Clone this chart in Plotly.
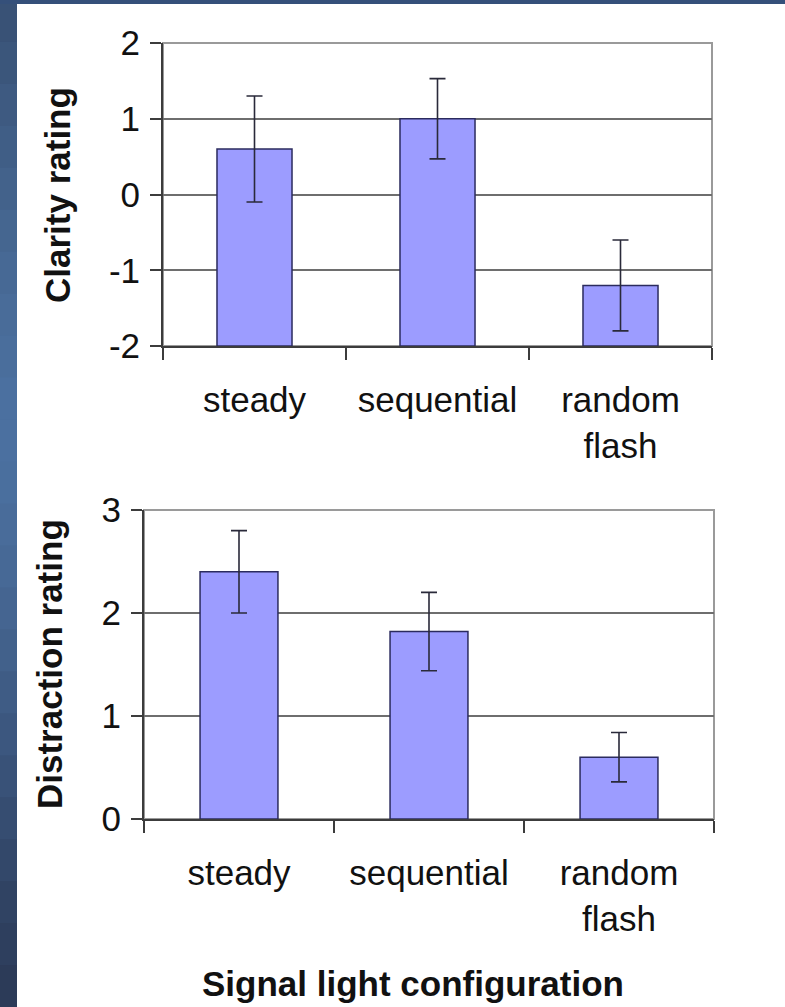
import plotly.graph_objects as go
from plotly.subplots import make_subplots

# ---- data ----
categories = ["steady", "sequential", "random flash"]
tick_labels = ["steady", "sequential", "random<br>flash"]
clarity_mean = [0.6, 1.0, -1.2]
clarity_err = [0.7, 0.53, 0.6]
distraction_mean = [2.4, 1.82, 0.6]
distraction_err = [0.4, 0.38, 0.24]
clarity_ticks = [-2, -1, 0, 1, 2]
clarity_tick_text = ["-2", "-1", "0", "1", "2"]
distraction_ticks = [0, 1, 2, 3]
distraction_tick_text = ["0", "1", "2", "3"]
clarity_min, clarity_max = -2, 2
distraction_min, distraction_max = 0, 3

W, H = 785, 1007
BAR_FILL = "#9c9cff"
BAR_LINE = "#2b2b5e"
ERR_COLOR = "#2a2a3a"
AXIS_COLOR = "#3c3c3c"
GRID_COLOR = "#6e6e6e"
FONT = "Liberation Sans, Arial, sans-serif"
TICK_SIZE = 35
TITLE_SIZE = 35

fig = make_subplots(rows=2, cols=1)

# top chart: bars drawn from the axis minimum (-2)
fig.add_trace(go.Bar(
    x=categories, y=[v - clarity_min for v in clarity_mean], base=clarity_min,
    marker=dict(color=BAR_FILL, line=dict(color=BAR_LINE, width=1.5)),
    showlegend=False, hoverinfo="skip"), row=1, col=1)
fig.add_trace(go.Scatter(
    x=categories, y=clarity_mean, mode="markers",
    marker=dict(color="rgba(0,0,0,0)", size=1),
    error_y=dict(type="data", array=clarity_err, color=ERR_COLOR, thickness=1.6, width=8),
    showlegend=False, hoverinfo="skip"), row=1, col=1)

fig.add_trace(go.Bar(
    x=categories, y=distraction_mean,
    marker=dict(color=BAR_FILL, line=dict(color=BAR_LINE, width=1.5)),
    showlegend=False, hoverinfo="skip"), row=2, col=1)
fig.add_trace(go.Scatter(
    x=categories, y=distraction_mean, mode="markers",
    marker=dict(color="rgba(0,0,0,0)", size=1),
    error_y=dict(type="data", array=distraction_err, color=ERR_COLOR, thickness=1.6, width=8),
    showlegend=False, hoverinfo="skip"), row=2, col=1)

def px_x(p):
    return p / W

def px_y(p):
    return 1 - p / H

xcommon = dict(
    type="category", tickmode="array", tickvals=categories, ticktext=tick_labels,
    tickson="boundaries", ticks="outside", ticklen=12, tickwidth=2, tickcolor=AXIS_COLOR,
    showline=True, linecolor=AXIS_COLOR, linewidth=2, showgrid=False, zeroline=False,
    tickfont=dict(family=FONT, size=TICK_SIZE, color="#111111"), automargin=False,
    ticklabelstandoff=22, range=[-0.5, 2.5], fixedrange=True,
)
ycommon = dict(
    tickmode="array", ticks="outside", ticklen=11, tickwidth=2, tickcolor=AXIS_COLOR,
    showline=True, linecolor=AXIS_COLOR, linewidth=2,
    showgrid=True, gridcolor=GRID_COLOR, gridwidth=2, zeroline=False,
    tickfont=dict(family=FONT, size=TICK_SIZE, color="#111111"), automargin=False,
    ticklabelstandoff=3, fixedrange=True,
)

fig.update_layout(
    width=W, height=H,
    margin=dict(l=0, r=0, t=0, b=0),
    paper_bgcolor="white", plot_bgcolor="white",
    template="none", bargap=0.59, showlegend=False,
    font=dict(family=FONT, color="#111111"),
    xaxis=dict(xcommon, domain=[px_x(163), px_x(712)]),
    yaxis=dict(ycommon, domain=[px_y(346), px_y(43)], range=[clarity_min, clarity_max],
               tickvals=clarity_ticks, ticktext=clarity_tick_text),
    xaxis2=dict(xcommon, domain=[px_x(144), px_x(714)]),
    yaxis2=dict(ycommon, domain=[px_y(819), px_y(510)], range=[distraction_min, distraction_max],
                tickvals=distraction_ticks, ticktext=distraction_tick_text),
)

shapes = []
# slide background decoration: dark blue left strip (gradient bands) and top strip
strip_colors = ["#395276", "#3b567b", "#3e5a81", "#405e86", "#43628b", "#456690",
                "#476995", "#496c99", "#4a6e9c", "#4b70a0", "#4b70a0", "#4a6f9e",
                "#496c9a", "#476996", "#456591", "#42618b", "#3f5c85", "#3c577f",
                "#395278", "#364d71", "#33486a", "#304363", "#2e3f5e", "#2c3b58"]
n = len(strip_colors)
shapes.append(dict(type="rect", xref="paper", yref="paper",
                   x0=0, x1=px_x(17), y0=0, y1=1,
                   fillcolor=strip_colors[n // 2], line=dict(width=0), layer="below"))
for i, c in enumerate(strip_colors):
    shapes.append(dict(type="rect", xref="paper", yref="paper",
                       x0=0, x1=px_x(17), y0=max(0, 1 - (i + 1) / n - 0.003),
                       y1=1 - i / n, fillcolor=c, line=dict(width=0), layer="below"))
shapes.append(dict(type="rect", xref="paper", yref="paper",
                   x0=0, x1=1, y0=px_y(4), y1=1,
                   fillcolor="#35507a", line=dict(width=0), layer="below"))
# plot frames (gray top/right border)
for xr, yr in (("x domain", "y domain"), ("x2 domain", "y2 domain")):
    shapes.append(dict(type="rect", xref=xr, yref=yr, x0=0, x1=1, y0=0, y1=1,
                       line=dict(color="#9a9a9a", width=2), layer="below"))
fig.update_layout(shapes=shapes)

annotations = [
    dict(text="<b>Clarity rating</b>", x=px_x(57), y=px_y(195), xref="paper", yref="paper",
         textangle=-90, showarrow=False, xanchor="center", yanchor="middle",
         font=dict(family=FONT, size=TITLE_SIZE, color="#111111")),
    dict(text="<b>Distraction rating</b>", x=px_x(49), y=px_y(664), xref="paper", yref="paper",
         textangle=-90, showarrow=False, xanchor="center", yanchor="middle",
         font=dict(family=FONT, size=TITLE_SIZE, color="#111111")),
    dict(text="<b>Signal light configuration</b>", x=px_x(413), y=px_y(983),
         xref="paper", yref="paper", showarrow=False, xanchor="center", yanchor="middle",
         font=dict(family=FONT, size=TITLE_SIZE, color="#111111")),
]
fig.update_layout(annotations=annotations)

fig.write_html("out.html", config={"displayModeBar": False},
               post_script="document.body.style.margin='0';document.body.style.padding='0';")
